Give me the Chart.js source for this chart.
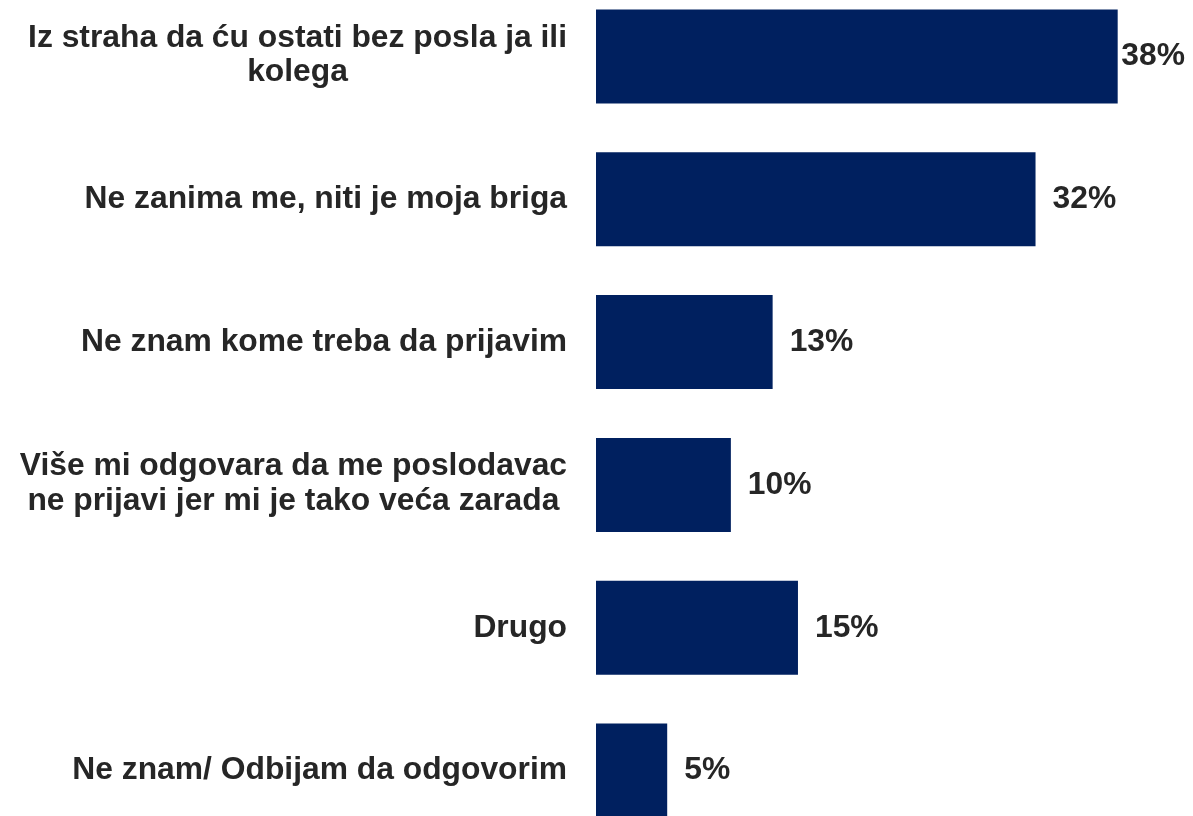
<!DOCTYPE html>
<html>
<head>
<meta charset="utf-8">
<script src="https://cdn.jsdelivr.net/npm/chart.js@4/dist/chart.umd.min.js"></script>
<style>
  html, body { margin: 0; padding: 0; background: #ffffff; overflow: hidden; width: 1193px; height: 816px; }
  #wrap { position: absolute; left: 0; top: -15px; width: 1193px; height: 857px; }
</style>
</head>
<body>
<div id="wrap"><canvas id="c"></canvas></div>
<script>
const categories = [
  ["Iz straha da ću ostati bez posla ja ili", "kolega"],
  ["Ne zanima me, niti je moja briga"],
  ["Ne znam kome treba da prijavim"],
  ["Više mi odgovara da me poslodavac", "ne prijavi jer mi je tako veća zarada"],
  ["Drugo"],
  ["Ne znam/ Odbijam da odgovorim"]
];
const values = [38.1, 32.1, 12.9, 9.85, 14.75, 5.2];
const valueLabels = ["38%", "32%", "13%", "10%", "15%", "5%"];

const FONT = 'bold 31.8px "Liberation Sans", Arial, sans-serif';
const TEXT = '#262626';

const labelPlugin = {
  id: 'customLabels',
  afterDatasetsDraw(chart) {
    const ctx = chart.ctx;
    const yScale = chart.scales.y;
    const meta = chart.getDatasetMeta(0);
    ctx.save();
    ctx.font = FONT;
    ctx.fillStyle = TEXT;
    ctx.textBaseline = 'middle';
    const rightEdge = chart.chartArea.left - 29;
    const lh = 34.6;
    categories.forEach((lines, i) => {
      const cy = yScale.getPixelForValue(i) - (lines.length > 1 ? 1 : 0);
      const widths = lines.map(l => ctx.measureText(l).width);
      const bw = Math.max(...widths);
      const cx = rightEdge - bw / 2;
      ctx.textAlign = 'center';
      lines.forEach((l, j) => {
        const y = cy + (j - (lines.length - 1) / 2) * lh;
        ctx.fillText(l, cx, y);
      });
    });
    ctx.textAlign = 'left';
    meta.data.forEach((bar, i) => {
      const t = valueLabels[i];
      const w = ctx.measureText(t).width;
      let x = bar.x + 17;
      if (x + w > chart.width - 8) x = chart.width - 8 - w;
      ctx.fillText(t, x, bar.y);
    });
    ctx.restore();
  }
};

new Chart(document.getElementById('c'), {
  type: 'bar',
  data: {
    labels: categories,
    datasets: [{
      data: values,
      backgroundColor: '#00205F',
      borderWidth: 0,
      categoryPercentage: 1,
      barPercentage: 0.658
    }]
  },
  options: {
    indexAxis: 'y',
    responsive: true,
    maintainAspectRatio: false,
    animation: false,
    layout: { padding: 0 },
    plugins: { legend: { display: false }, tooltip: { enabled: false } },
    scales: {
      x: { display: false, min: 0, max: 43.6 },
      y: {
        display: true,
        grid: { display: false },
        border: { display: false },
        ticks: { display: false },
        afterFit(s) { s.width = 596; }
      }
    }
  },
  plugins: [labelPlugin]
});
</script>
</body>
</html>
